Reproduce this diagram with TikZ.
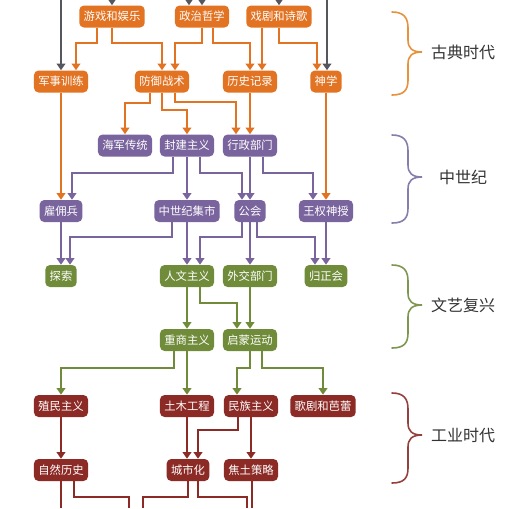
\documentclass[tikz,border=0pt]{standalone}
\usepackage{fontspec}
\newfontfamily\zhfont{Noto Sans CJK SC}
\usepackage{tikz}
\usetikzlibrary{calc,arrows.meta}

\begin{document}
\begin{tikzpicture}[x=0.75pt,y=0.75pt,yscale=-1,xscale=1,
  box/.style={rounded corners=3.5pt,inner xsep=3.3pt,inner ysep=0pt,minimum height=16.5pt,text=white,font=\zhfont\fontsize{8.5}{10}\selectfont},
  boxorange/.style={box,fill={rgb, 255:red, 226; green, 115; blue, 35 }},
  boxpurple/.style={box,fill={rgb, 255:red, 122; green, 100; blue, 158 }},
  boxgreen/.style={box,fill={rgb, 255:red, 112; green, 140; blue, 58 }},
  boxred/.style={box,fill={rgb, 255:red, 140; green, 42; blue, 38 }},
  conn/.style={line width=1.6pt,-{Triangle[width=6.5pt,length=5pt]}},
  linegray/.style={conn,color={rgb, 255:red, 85; green, 87; blue, 95 }},
  lineorange/.style={conn,color={rgb, 255:red, 226; green, 115; blue, 35 }},
  linepurple/.style={conn,color={rgb, 255:red, 122; green, 100; blue, 158 }},
  linegreen/.style={conn,color={rgb, 255:red, 112; green, 140; blue, 58 }},
  linered/.style={conn,color={rgb, 255:red, 140; green, 42; blue, 38 }},
  brace/.style={line width=1.2pt,line cap=round},
  era/.style={font=\zhfont\fontsize{12}{14}\selectfont,text={rgb, 255:red, 51; green, 51; blue, 51 }}
]
\useasboundingbox (0,0) rectangle (523,508);

% Text Node: 古典
\node [boxorange] (youxi) at (112,16.5) {游戏和娱乐};
\node [boxorange] (zhengzhi) at (202,16.5) {政治哲学};
\node [boxorange] (xiju) at (279,16.5) {戏剧和诗歌};
\node [boxorange] (junshi) at (61,81.5) {军事训练};
\node [boxorange] (fangyu) at (162,81.5) {防御战术};
\node [boxorange] (lishi) at (250,81.5) {历史记录};
\node [boxorange] (shenxue) at (326,81.5) {神学};
% Text Node: 中世纪
\node [boxpurple] (haijun) at (125,145.5) {海军传统};
\node [boxpurple] (fengjian) at (187,145.5) {封建主义};
\node [boxpurple] (xingzheng) at (250,145.5) {行政部门};
\node [boxpurple] (guyong) at (61,211) {雇佣兵};
\node [boxpurple] (jishi) at (187,211) {中世纪集市};
\node [boxpurple] (gonghui) at (250,211) {公会};
\node [boxpurple] (wangquan) at (326,211) {王权神授};
% Text Node: 文艺复兴
\node [boxgreen] (tansuo) at (61,276) {探索};
\node [boxgreen] (renwen) at (187,276) {人文主义};
\node [boxgreen] (waijiao) at (250,276) {外交部门};
\node [boxgreen] (guizheng) at (326,276) {归正会};
\node [boxgreen] (zhongshang) at (187,340) {重商主义};
\node [boxgreen] (qimeng) at (250,340) {启蒙运动};
% Text Node: 工业
\node [boxred] (zhimin) at (61,406) {殖民主义};
\node [boxred] (tumu) at (187,406) {土木工程};
\node [boxred] (minzu) at (251,406) {民族主义};
\node [boxred] (geju) at (323,406) {歌剧和芭蕾};
\node [boxred] (ziran) at (61,470) {自然历史};
\node [boxred] (chengshi) at (188,470) {城市化};
\node [boxred] (jiaotu) at (251,470) {焦土策略};

% free ends at the top and bottom edge
\coordinate (top1) at (61,0);
\coordinate (top2) at (112,0);
\coordinate (top3) at (189,0);
\coordinate (top4) at (202,0);
\coordinate (top5) at (279,0);
\coordinate (top6) at (327,0);
\coordinate (bot1) at (61,508);
\coordinate (bot2) at (129,508);
\coordinate (bot3) at (143,508);
\coordinate (bot4) at (247,508);
\coordinate (bot5) at (252,508);

%Straight Lines: gray
\draw [linegray] (top1) -- (junshi.north);
\draw [linegray] (top2) -- (youxi.north);
\draw [linegray] (top3) -- (top3 |- zhengzhi.north);
\draw [linegray] (top4) -- (zhengzhi.north);
\draw [linegray] (top5) -- (xiju.north);
\draw [linegray] (top6) -- (top6 |- shenxue.north);

%Lines: orange
\draw [lineorange] ($(youxi.south)+(-15,0)$) -- ++(0,15.5) -| ($(junshi.north)+(15,0)$);
\draw [lineorange] (youxi.south) -- ++(0,15.5) -| (fangyu.north);
\draw [lineorange] (zhengzhi.south) -- ++(0,15.5) -| ($(fangyu.north)+(13,0)$);
\draw [lineorange] ($(zhengzhi.south)+(11,0)$) -- ++(0,15.5) -| (lishi.north);
\draw [lineorange] ($(xiju.south)+(-17,0)$) -- ($(lishi.north)+(12,0)$);
\draw [lineorange] (xiju.south) -- ++(0,15.5) -| ($(shenxue.north)+(-9,0)$);
\draw [lineorange] (junshi.south) -- (guyong.north);
\draw [lineorange] ($(fangyu.south)+(-12,0)$) -- ++(0,10.5) -| (haijun.north);
\draw [lineorange] (fangyu.south) -- ++(0,17.5) -| (fengjian.north);
\draw [lineorange] ($(fangyu.south)+(13,0)$) -- ++(0,9.5) -| ($(xingzheng.north)+(-14,0)$);
\draw [lineorange] (lishi.south) -- (xingzheng.north);
\draw [lineorange] (shenxue.south) -- (wangquan.north);

%Lines: purple
\draw [linepurple] ($(fengjian.south)+(-14,0)$) -- ++(0,16.5) -| ($(guyong.north)+(11,0)$);
\draw [linepurple] (fengjian.south) -- (jishi.north);
\draw [linepurple] ($(fengjian.south)+(13,0)$) -- ++(0,16.5) -| ($(gonghui.north)+(-8,0)$);
\draw [linepurple] (xingzheng.south) -- (gonghui.north);
\draw [linepurple] ($(xingzheng.south)+(13,0)$) -- ++(0,16.5) -| ($(wangquan.north)+(-13,0)$);
\draw [linepurple] (guyong.south) -- (tansuo.north);
\draw [linepurple] ($(jishi.south)+(-15,0)$) -- ++(0,15) -| ($(tansuo.north)+(9,0)$);
\draw [linepurple] (jishi.south) -- (renwen.north);
\draw [linepurple] ($(gonghui.south)+(-8,0)$) -- ++(0,15) -| ($(renwen.north)+(13,0)$);
\draw [linepurple] (gonghui.south) -- (waijiao.north);
\draw [linepurple] ($(gonghui.south)+(7,0)$) -- ++(0,15) -| ($(guizheng.north)+(-11,0)$);
\draw [linepurple] (wangquan.south) -- (guizheng.north);

%Lines: green
\draw [linegreen] (renwen.south) -- (zhongshang.north);
\draw [linegreen] ($(renwen.south)+(13,0)$) -- ++(0,16) -| ($(qimeng.north)+(-13,0)$);
\draw [linegreen] (waijiao.south) -- (qimeng.north);
\draw [linegreen] ($(zhongshang.south)+(-13,0)$) -- ++(0,17) -| (zhimin.north);
\draw [linegreen] (zhongshang.south) -- (tumu.north);
\draw [linegreen] (qimeng.south) -- ++(0,17) -| ($(minzu.north)+(-14,0)$);
\draw [linegreen] ($(qimeng.south)+(12,0)$) -- ++(0,17) -| (geju.north);

%Lines: red
\draw [linered] (zhimin.south) -- (ziran.north);
\draw [linered] (tumu.south) -- (tumu.south |- chengshi.north);
\draw [linered] ($(minzu.south)+(-13,0)$) -- ++(0,13) -| ($(chengshi.north)+(10,0)$);
\draw [linered] (minzu.south) -- (jiaotu.north);
\draw [linered,-] (ziran.south) -- (bot1);
\draw [linered,-] ($(ziran.south)+(13,0)$) -- ++(0,16) -| (bot2);
\draw [linered,-] (chengshi.south) -- ++(0,16) -| (bot3);
\draw [linered,-] ($(chengshi.south)+(10,0)$) -- ++(0,16) -| (bot4);
\draw [linered,-] (jiaotu.south) -- (bot5 |- jiaotu.south) -- (bot5);

%Curve Lines: braces
\draw [brace,color={rgb, 255:red, 230; green, 145; blue, 60 }] (392,12) .. controls (404,12) and (408,18) .. (408,28) -- (408,40) .. controls (408,48) and (412,52) .. (422,52) .. controls (412,52) and (408,56) .. (408,64) -- (408,80) .. controls (408,90) and (404,95) .. (392,95) ;
\draw [brace,color={rgb, 255:red, 135; green, 125; blue, 172 }] (392,135) .. controls (404,135) and (408,141) .. (408,151) -- (408,165) .. controls (408,173) and (412,177) .. (422,177) .. controls (412,177) and (408,181) .. (408,189) -- (408,208) .. controls (408,218) and (404,223) .. (392,223) ;
\draw [brace,color={rgb, 255:red, 125; green, 150; blue, 80 }] (392,265) .. controls (404,265) and (408,271) .. (408,281) -- (408,293) .. controls (408,301) and (412,305) .. (422,305) .. controls (412,305) and (408,309) .. (408,317) -- (408,333) .. controls (408,343) and (404,348) .. (392,348) ;
\draw [brace,color={rgb, 255:red, 148; green, 65; blue, 62 }] (392,393) .. controls (404,393) and (408,399) .. (408,409) -- (408,423) .. controls (408,431) and (412,435) .. (422,435) .. controls (412,435) and (408,439) .. (408,447) -- (408,468) .. controls (408,478) and (404,483) .. (392,483) ;

% Text Node: eras
\node [era] (gudian) at (463,52) {古典时代};
\node [era] (zhongshiji) at (463,177) {中世纪};
\node [era] (wenyi) at (463,305) {文艺复兴};
\node [era] (gongye) at (463,435) {工业时代};

\end{tikzpicture}
\end{document}
